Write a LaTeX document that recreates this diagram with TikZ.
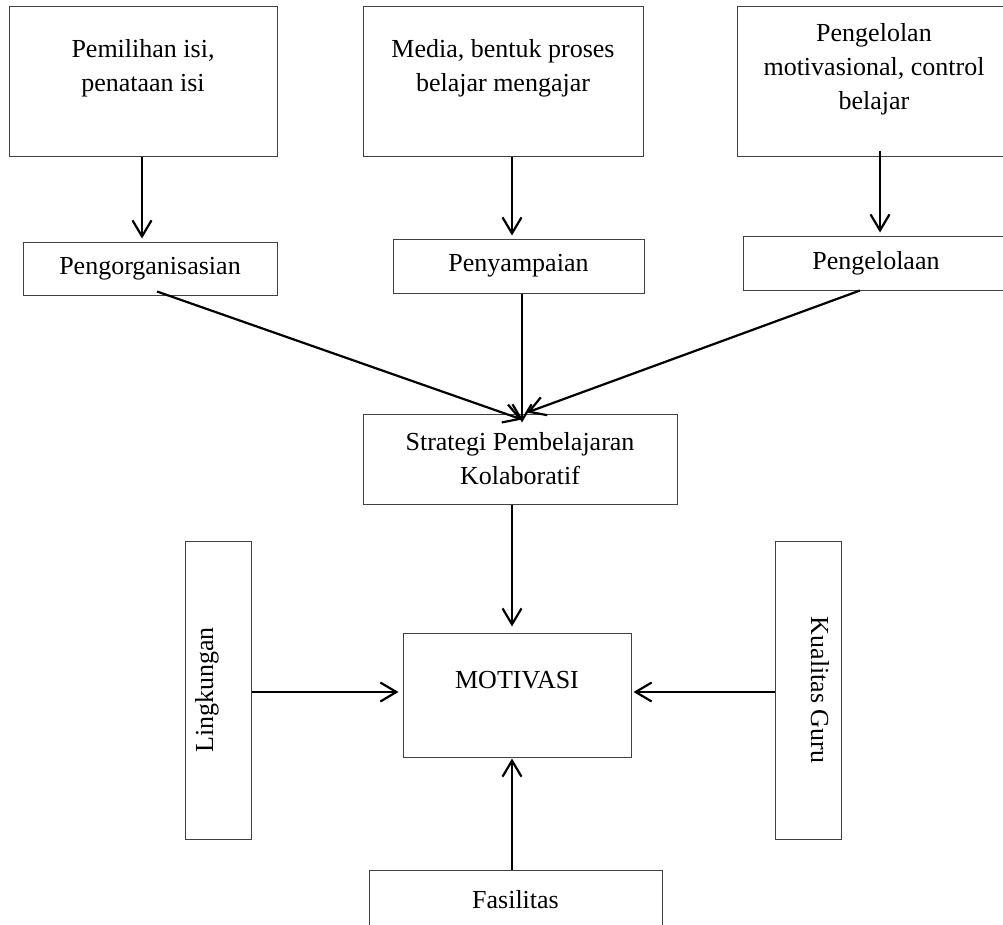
\documentclass[tikz,border=0pt]{standalone}
\usepackage{fontspec}
\setmainfont{Liberation Serif}
\usetikzlibrary{positioning,calc,arrows.meta}
\definecolor{kfLine}{HTML}{404040}
\definecolor{kfArrow}{HTML}{000000}

\begin{document}
\begin{tikzpicture}[x=1pt, y=-1pt,
  box/.style={draw=kfLine, line width=1pt, inner sep=0pt},
  txt/.style={font=\fontsize{26}{34}\selectfont, align=center, inner sep=0pt},
  arr/.style={draw=kfArrow, line width=2.2pt,
    -{Straight Barb[length=16pt, width=19pt]}}]

\useasboundingbox (0,0) rectangle (1003,924);

% --- TOP ROW (content boxes, text sits near the top) ---
\node[box, minimum width=268pt, minimum height=150pt] (isi) at (143,81) {};
\node[box, minimum width=280pt, minimum height=150pt] (media) at (503,81) {};
\node[box, minimum width=274pt, minimum height=150pt] (kelola) at (874,81) {};
\node[txt, anchor=north] (isiT) at ([yshift=-34pt]isi.north)
  {Pemilihan isi,\\penataan isi};
\node[txt, anchor=north] (mediaT) at ([yshift=-34pt]media.north)
  {Media, bentuk proses\\belajar mengajar};
\node[txt, anchor=north] (kelolaT) at ([yshift=-18pt]kelola.north)
  {Pengelolan\\motivasional, control\\belajar};

% --- SECOND ROW (strategy components) ---
\node[box, txt, minimum width=254pt, minimum height=53pt] (org) at (150,268.5)
  {Pengorganisasian};
\node[box, txt, minimum width=251pt, minimum height=54pt] (sampai) at (518.5,266)
  {Penyampaian};
\node[box, txt, minimum width=266pt, minimum height=54pt] (lola) at (876,263)
  {Pengelolaan};

% --- CENTRE ---
\node[box, txt, minimum width=314pt, minimum height=90pt] (strat) at (520,459)
  {Strategi Pembelajaran\\Kolaboratif};
\node[box, minimum width=228pt, minimum height=124pt] (motiv) at (517,695) {};
\node[txt] (motivT) at ([yshift=-48pt]motiv.north) {MOTIVASI};

% --- SIDE AND BOTTOM FACTORS ---
\node[box, minimum width=66pt, minimum height=298pt] (ling) at (218,690) {};
\node[txt, rotate=90] (lingT) at (207,690) {Lingkungan};
\node[box, minimum width=66pt, minimum height=298pt] (guru) at (808,690) {};
\node[txt, rotate=-90] (guruT) at (820,690) {Kualitas Guru};
\node[box, txt, minimum width=293pt, minimum height=60pt] (fas) at (515.5,900)
  {Fasilitas};

% --- ARROWS: top row -> second row ---
\foreach \src/\dst/\dx/\dy in {isi/org/-1/0, media/sampai/9/0, kelola/lola/6/6} {
  \draw[arr, shorten >=3pt] ([shift={(\dx pt,\dy pt)}]\src.south)
    -- ([xshift=\dx pt]\src.south |- \dst.north);
}

% --- ARROWS: second row -> strategy ---
\draw[arr] ([shift={(7pt,4pt)}]org.south) -- ([shift={(2pt,-6pt)}]strat.north);
\draw[arr] ([xshift=3.5pt]sampai.south) -- ([shift={(2pt,-9pt)}]strat.north);
\draw[arr] ([xshift=-16pt]lola.south) -- ([shift={(7pt,1pt)}]strat.north);

% --- ARROWS: into MOTIVASI ---
\draw[arr, shorten >=6pt] ([xshift=-8pt]strat.south)
  -- ([xshift=-8pt]strat.south |- motiv.north);
\draw[arr, shorten >=4pt] ([yshift=-2pt]ling.east)
  -- ([yshift=-2pt]ling.east -| motiv.west);
\draw[arr, shorten >=2pt] ([yshift=-2pt]guru.west)
  -- ([yshift=-2pt]guru.west -| motiv.east);
\draw[arr, shorten >=1pt] ([xshift=-3.5pt]fas.north)
  -- ([xshift=-3.5pt]fas.north |- motiv.south);

\end{tikzpicture}
\end{document}
